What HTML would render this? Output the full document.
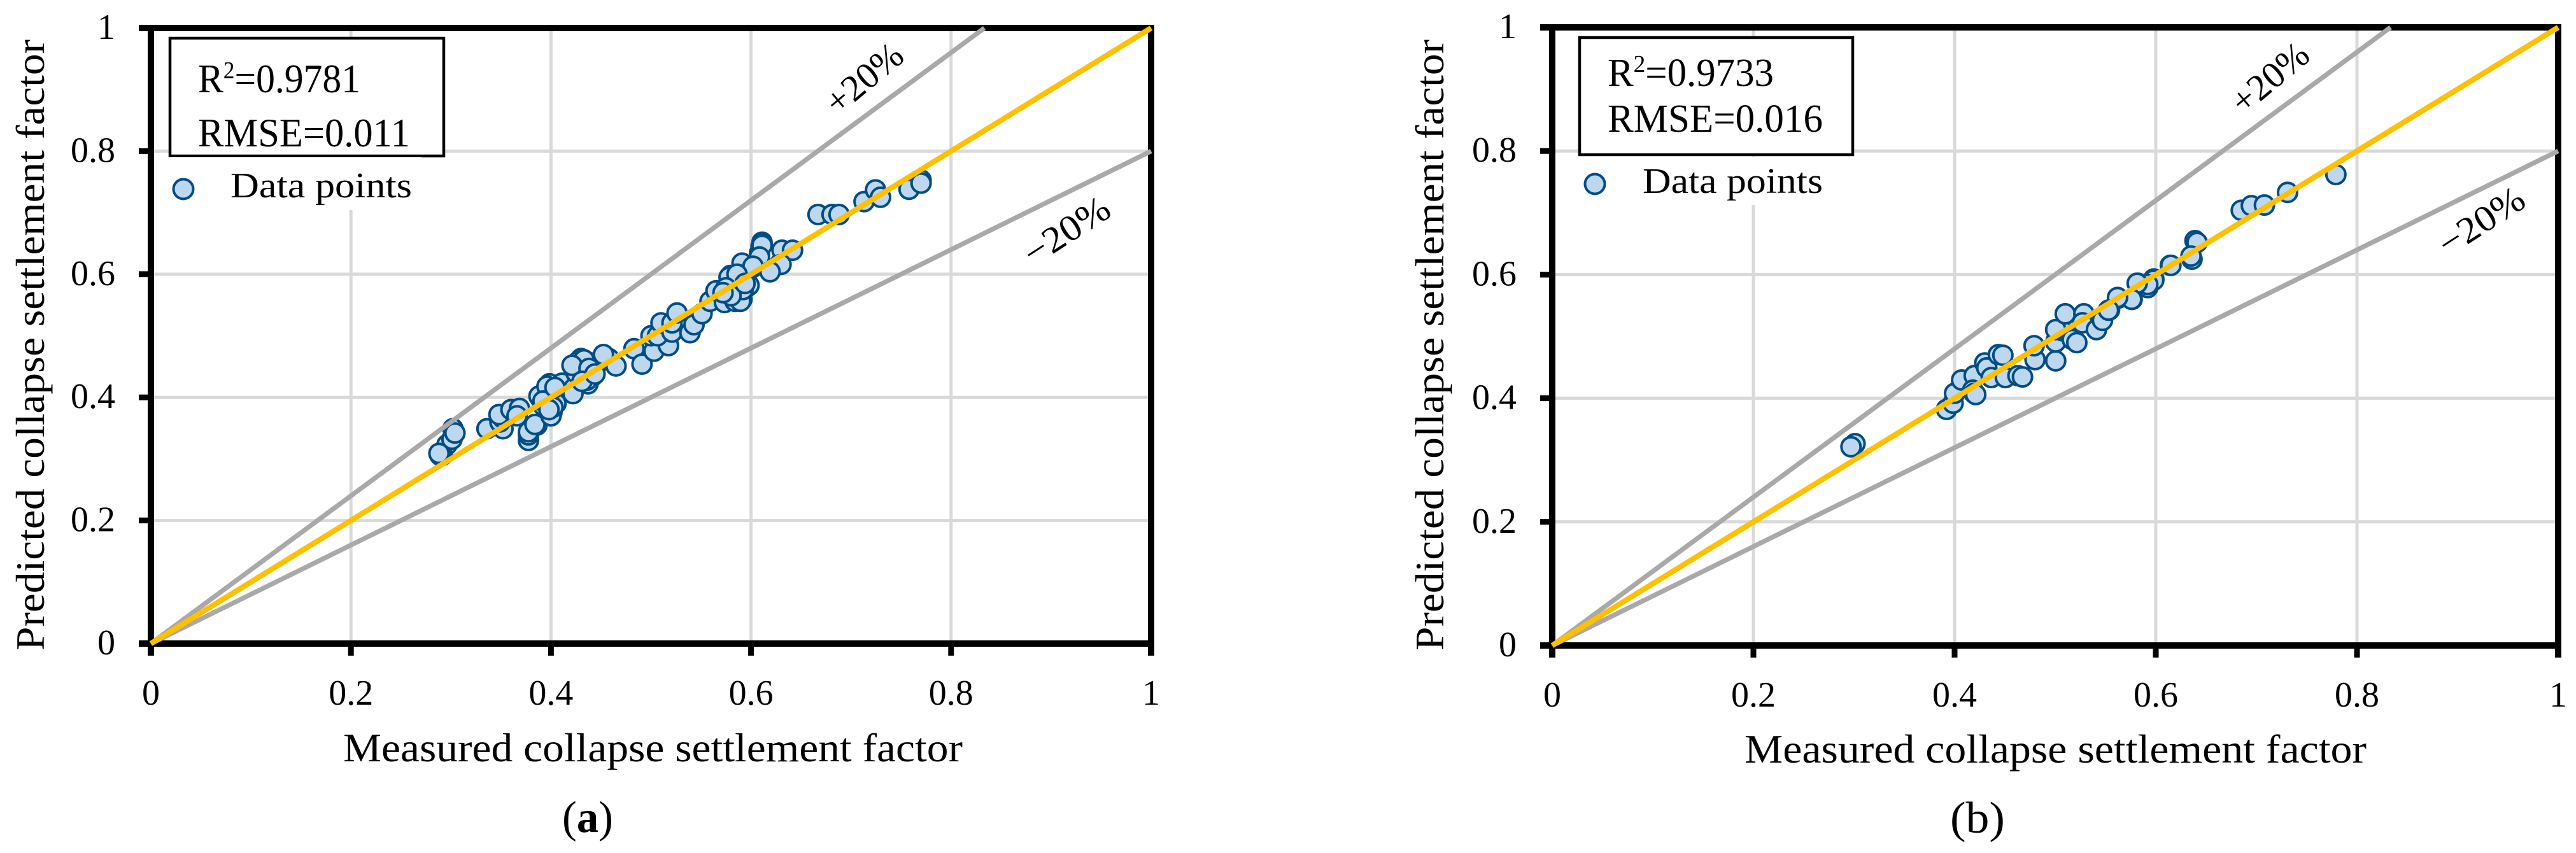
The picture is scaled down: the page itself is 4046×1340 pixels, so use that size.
<!DOCTYPE html>
<html lang="en">
<head>
<meta charset="utf-8">
<title>Measured vs predicted collapse settlement factor</title>
<style>
html,body{margin:0;padding:0;background:#fff}
svg{display:block}
text{font-family:"Liberation Serif",serif;fill:#000}
</style>
</head>
<body>
<svg id="chart" xmlns="http://www.w3.org/2000/svg" width="4046" height="1340" viewBox="0 0 4046 1340">
<rect x="0" y="0" width="4046" height="1340" fill="#fff"/>
<g id="panel-a"></g>
<g id="panel-b"></g>

<g>
  <text x="539" y="1196" font-size="64" textLength="973" lengthAdjust="spacingAndGlyphs">Measured collapse settlement factor</text>
  <text transform="translate(69,1022) rotate(-90)" font-size="64" textLength="960" lengthAdjust="spacingAndGlyphs">Predicted collapse settlement factor</text>
  <rect x="267" y="60" width="430" height="185" fill="#fff" stroke="#000" stroke-width="4.5"/>
  <text x="311" y="145" font-size="64" textLength="255" lengthAdjust="spacingAndGlyphs">R<tspan font-size="38" dy="-22">2</tspan><tspan dy="22">=0.9781</tspan></text>
  <text x="311" y="230" font-size="64" textLength="333" lengthAdjust="spacingAndGlyphs">RMSE=0.011</text>
  <rect x="262" y="247" width="400" height="83" fill="#fff"/>
  <circle cx="288" cy="297" r="15.5" fill="#bdd7ee" stroke="#004d85" stroke-width="4"/>
  <text x="362" y="310" font-size="56" textLength="285" lengthAdjust="spacingAndGlyphs">Data points</text>
  <text transform="translate(1357,123) rotate(-40)" text-anchor="middle" dominant-baseline="central" font-size="58" textLength="140" lengthAdjust="spacingAndGlyphs">+20%</text>
  <text transform="translate(1675,362) rotate(-33)" text-anchor="middle" dominant-baseline="central" font-size="58" textLength="150" lengthAdjust="spacingAndGlyphs">−20%</text>
  <text x="883" y="1307" font-size="70" textLength="80" lengthAdjust="spacingAndGlyphs">(<tspan font-weight="bold">a</tspan>)</text>
</g>

<g>
  <text x="2740" y="1198" font-size="64" textLength="977" lengthAdjust="spacingAndGlyphs">Measured collapse settlement factor</text>
  <text transform="translate(2267,1022) rotate(-90)" font-size="64" textLength="960" lengthAdjust="spacingAndGlyphs">Predicted collapse settlement factor</text>
  <rect x="2481" y="59" width="429" height="184" fill="#fff" stroke="#000" stroke-width="4.5"/>
  <text x="2525" y="135" font-size="62" textLength="261" lengthAdjust="spacingAndGlyphs">R<tspan font-size="38" dy="-22">2</tspan><tspan dy="22">=0.9733</tspan></text>
  <text x="2525" y="207" font-size="62" textLength="338" lengthAdjust="spacingAndGlyphs">RMSE=0.016</text>
  <rect x="2478" y="246" width="400" height="76" fill="#fff"/>
  <circle cx="2505" cy="289" r="15.5" fill="#bdd7ee" stroke="#004d85" stroke-width="4"/>
  <text x="2580" y="303" font-size="56" textLength="283" lengthAdjust="spacingAndGlyphs">Data points</text>
  <text transform="translate(3565,122) rotate(-40)" text-anchor="middle" dominant-baseline="central" font-size="58" textLength="140" lengthAdjust="spacingAndGlyphs">+20%</text>
  <text transform="translate(3897,347) rotate(-33)" text-anchor="middle" dominant-baseline="central" font-size="58" textLength="150" lengthAdjust="spacingAndGlyphs">−20%</text>
  <text x="3063" y="1308" font-size="70" textLength="86" lengthAdjust="spacingAndGlyphs">(b)</text>
</g>
</svg>

<script>
const tickValues = [0, 0.2, 0.4, 0.6, 0.8, 1];
const tickLabels = ["0", "0.2", "0.4", "0.6", "0.8", "1"];
const boundSlopes = [1.2, 0.8];
const idealSlope = [1];

const measuredA = [0.302,0.296,0.2915,0.289,0.288,0.301,0.304,0.336,0.352,0.349,0.352,0.348,0.360,0.3685,0.366,0.386,0.3775,0.3775,0.3775,0.384,0.392,0.3965,0.3985,0.39,0.401,0.40,0.395,0.388,0.405,0.411,0.423,0.422,0.4315,0.4285,0.433,0.439,0.439,0.449,0.458,0.465,0.437,0.43,0.425,0.435,0.428,0.442,0.436,0.441,0.4525,0.483,0.491,0.503,0.5175,0.50,0.5065,0.51,0.521,0.521,0.526,0.539,0.543,0.551,0.559,0.565,0.5735,0.584,0.591,0.5795,0.5855,0.5965,0.591,0.6015,0.6085,0.611,0.61,0.62,0.6295,0.631,0.611,0.611,0.6085,0.602,0.6415,0.63,0.619,0.598,0.5895,0.582,0.578,0.586,0.592,0.575,0.58,0.572,0.594,0.396,0.402,0.392,0.404,0.398,0.427,0.433,0.421,0.438,0.431,0.444,0.667,0.681,0.688,0.713,0.7245,0.7295,0.758,0.770,0.770];
const predictedA = [0.349,0.323,0.306,0.306,0.309,0.332,0.342,0.349,0.349,0.36,0.366,0.372,0.380,0.382,0.370,0.355,0.330,0.339,0.344,0.356,0.387,0.408,0.422,0.397,0.376,0.37,0.412,0.402,0.39,0.423,0.415,0.406,0.4385,0.449,0.432,0.456,0.4425,0.458,0.463,0.451,0.422,0.463,0.44,0.45,0.455,0.435,0.428,0.448,0.4695,0.479,0.454,0.475,0.484,0.50,0.50,0.521,0.506,0.521,0.537,0.505,0.518,0.536,0.556,0.573,0.554,0.556,0.5595,0.598,0.583,0.58,0.618,0.611,0.634,0.652,0.645,0.608,0.618,0.639,0.650,0.647,0.628,0.613,0.639,0.616,0.604,0.582,0.556,0.59,0.595,0.6,0.575,0.578,0.565,0.57,0.585,0.418,0.384,0.394,0.416,0.38,0.458,0.461,0.452,0.447,0.426,0.438,0.697,0.697,0.697,0.718,0.737,0.725,0.738,0.753,0.748];

const measuredB = [0.301,0.297,0.392,0.3985,0.40,0.407,0.4195,0.418,0.4195,0.421,0.43,0.432,0.4365,0.4435,0.448,0.4505,0.463,0.4675,0.48,0.479,0.5005,0.5005,0.5075,0.5005,0.51,0.517,0.5215,0.5285,0.527,0.541,0.547,0.554,0.5625,0.5765,0.582,0.592,0.598,0.6145,0.636,0.639,0.641,0.635,0.615,0.598,0.592,0.5815,0.576,0.562,0.553,0.685,0.695,0.708,0.731,0.779];
const predictedB = [0.3265,0.3215,0.382,0.392,0.408,0.4295,0.4365,0.413,0.408,0.406,0.457,0.449,0.4335,0.4705,0.4695,0.4335,0.4365,0.4345,0.4625,0.485,0.4605,0.491,0.509,0.511,0.5365,0.495,0.49,0.5365,0.522,0.511,0.526,0.543,0.562,0.56,0.586,0.579,0.593,0.615,0.625,0.655,0.652,0.63,0.615,0.591,0.584,0.586,0.56,0.563,0.5425,0.704,0.7115,0.7125,0.733,0.762];

const SVGNS = "http://www.w3.org/2000/svg";

function makeScale(p0, p1) {
  return function (v) { return p0 + (p1 - p0) * v; };
}

function makeLine(parent, x1, y1, x2, y2, color, width) {
  const el = document.createElementNS(SVGNS, "line");
  el.setAttribute("x1", x1);
  el.setAttribute("y1", y1);
  el.setAttribute("x2", x2);
  el.setAttribute("y2", y2);
  el.setAttribute("stroke", color);
  el.setAttribute("stroke-width", width);
  parent.appendChild(el);
  return el;
}

function drawPanel(id, suffix, frame, measured, predicted) {
  const g = document.getElementById(id);
  const sx = makeScale(frame.x0, frame.x1);
  const sy = makeScale(frame.y0, frame.y1);

  tickValues.forEach(function (t) {
    if (t === 0 || t === 1) return;
    const gv = makeLine(g, sx(t), frame.y0, sx(t), frame.y1, "#d9d9d9", 5);
    
    
    const gh = makeLine(g, frame.x0, sy(t), frame.x1, sy(t), "#d9d9d9", 5);
    
    
  });

  const axisW = 10;
  const tickLen = 19;

  const bottom = makeLine(g, frame.x0 - tickLen, frame.y0, frame.x1 + 5, frame.y0, "#000", axisW);
  
  
  const top = makeLine(g, frame.x0 - tickLen, frame.y1, frame.x1 + 5, frame.y1, "#000", axisW);
  
  
  const left = makeLine(g, frame.x0, frame.y1 - 5, frame.x0, frame.y0 + tickLen, "#000", axisW);
  
  
  const right = makeLine(g, frame.x1, frame.y1 - 5, frame.x1, frame.y0 + tickLen, "#000", axisW);
  
  

  tickValues.forEach(function (t, i) {
    const xt = makeLine(g, sx(t), frame.y0, sx(t), frame.y0 + tickLen, "#000", axisW - 1);
    
    
    const yt = makeLine(g, frame.x0 - tickLen, sy(t), frame.x0, sy(t), "#000", axisW - 1);
    
    

    const xl = document.createElementNS(SVGNS, "text");
    
    
    xl.setAttribute("x", sx(t));
    xl.setAttribute("y", frame.y0 + 96);
    xl.setAttribute("text-anchor", "middle");
    xl.setAttribute("font-size", "56");
    xl.textContent = tickLabels[i];
    g.appendChild(xl);

    const yl = document.createElementNS(SVGNS, "text");
    
    
    yl.setAttribute("x", frame.x0 - 56);
    yl.setAttribute("y", sy(t) + 17);
    yl.setAttribute("text-anchor", "end");
    yl.setAttribute("font-size", "56");
    yl.textContent = tickLabels[i];
    g.appendChild(yl);
  });

  measured.forEach(function (m, i) {
    const c = document.createElementNS(SVGNS, "circle");
    
    
    c.setAttribute("cx", sx(m));
    c.setAttribute("cy", sy(predicted[i]));
    c.setAttribute("r", 15);
    c.setAttribute("fill", "#bdd7ee");
    c.setAttribute("stroke", "#004d85");
    c.setAttribute("stroke-width", 4);
    g.appendChild(c);
  });

  boundSlopes.forEach(function (s) {
    const endX = Math.min(1, 1 / s);
    const b = makeLine(g, sx(0), sy(0), sx(endX), sy(endX * s), "#a9a9a9", 7.5);
    
    
  });

  idealSlope.forEach(function (s) {
    const endX = Math.min(1, 1 / s);
    const l = makeLine(g, sx(0), sy(0), sx(endX), sy(endX * s), "#ffc000", 8.5);
    
    
  });
}

drawPanel("panel-a", "a", { x0: 237, x1: 1808, y0: 1011, y1: 44 }, measuredA, predictedA);
drawPanel("panel-b", "b", { x0: 2438, x1: 4018, y0: 1014, y1: 43 }, measuredB, predictedB);
</script>
</body>
</html>
